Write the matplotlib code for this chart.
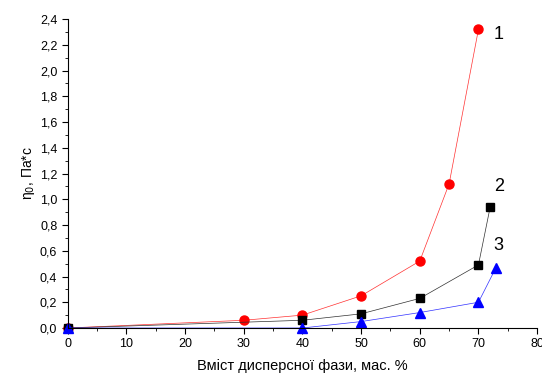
import matplotlib
matplotlib.use('Agg')
import matplotlib.pyplot as plt
from matplotlib.ticker import MultipleLocator, FuncFormatter

plt.rcParams['font.family'] = ['Liberation Sans', 'DejaVu Sans']

# дані
x1 = [0, 30, 40, 50, 60, 65, 70]
y1 = [0.0, 0.06, 0.10, 0.25, 0.52, 1.12, 2.32]
x2 = [0, 40, 50, 60, 70, 72]
y2 = [0.0, 0.06, 0.11, 0.23, 0.49, 0.94]
x3 = [0, 40, 50, 60, 70, 73]
y3 = [0.0, 0.0, 0.05, 0.12, 0.20, 0.47]
labels = ['1', '2', '3']
label_pos = [(72.6, 2.28), (72.6, 1.10), (72.6, 0.64)]

fig = plt.figure(figsize=(5.42, 3.74), dpi=100)
ax = fig.add_axes([0.125, 0.123, 0.866, 0.826])

ax.plot(x1, y1, color='#ff3030', lw=0.5, marker='o', ms=6.5, mec='red', mfc='red')
ax.plot(x2, y2, color='#303030', lw=0.5, marker='s', ms=5.5, mec='black', mfc='black')
ax.plot(x3, y3, color='#3030ff', lw=0.5, marker='^', ms=6.5, mec='blue', mfc='blue')

for lab, (tx, ty) in zip(labels, label_pos):
    ax.text(tx, ty, lab, fontsize=13, ha='left', va='center')

ax.set_xlim(0, 80)
ax.set_ylim(0, 2.4)
ax.xaxis.set_major_locator(MultipleLocator(10))
ax.xaxis.set_minor_locator(MultipleLocator(5))
ax.yaxis.set_major_locator(MultipleLocator(0.2))
ax.yaxis.set_minor_locator(MultipleLocator(0.1))
ax.yaxis.set_major_formatter(FuncFormatter(lambda v, p: ('%.1f' % v).replace('.', ',')))

for s in ['top', 'right']:
    ax.spines[s].set_visible(False)
ax.tick_params(which='major', direction='out', length=4, labelsize=9)
ax.tick_params(which='minor', direction='out', length=2.5)

ax.set_xlabel('Вміст дисперсної фази, мас. %', fontsize=10.5, labelpad=6)
ax.set_ylabel('η$_0$, Па*с', fontsize=10, labelpad=2)
for line in ax.lines:
    line.set_clip_on(False)

fig.savefig('out.png', dpi=100)
